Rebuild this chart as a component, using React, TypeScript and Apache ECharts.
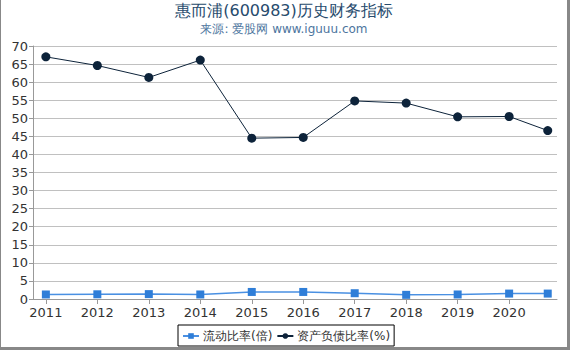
import React, { useEffect, useRef } from "react";
import * as echarts from "echarts";

const years = [2011, 2012, 2013, 2014, 2015, 2016, 2017, 2018, 2019, 2020, 2020.75];
const tickYears = [2011, 2012, 2013, 2014, 2015, 2016, 2017, 2018, 2019, 2020];
const currentRatio = [1.25, 1.3, 1.35, 1.25, 1.95, 1.95, 1.6, 1.15, 1.25, 1.5, 1.5];
const debtRatio = [67.0, 64.6, 61.3, 66.1, 44.5, 44.7, 54.8, 54.2, 50.4, 50.5, 46.6];

export default function App() {
  const ref = useRef<HTMLDivElement>(null);
  useEffect(() => {
    document.body.style.margin = "0";
    const chart = echarts.init(ref.current!, null, { renderer: "svg" });
    chart.setOption({
      animation: false,
      backgroundColor: "#fff",
      title: {
        text: "惠而浦(600983)历史财务指标",
        subtext: "来源: 爱股网 www.iguuu.com",
        left: "center",
        top: -3,
        itemGap: 5,
        textStyle: { fontSize: 16, fontWeight: "normal", color: "#274b6d", fontFamily: "DejaVu Sans" },
        subtextStyle: { fontSize: 12, color: "#4d759e", fontFamily: "DejaVu Sans" },
      },
      grid: { left: 32, right: 10, top: 46, bottom: 48 },
      legend: {
        bottom: 1,
        left: 177,
        borderColor: "#000",
        borderWidth: 1,
        borderRadius: 0,
        padding: [5, 4, 4, 4],
        itemGap: 4,
        itemWidth: 16,
        itemHeight: 7,
        textStyle: { fontSize: 12, color: "#333", fontFamily: "DejaVu Sans", padding: [0, 0, 0, -1] },
        data: ["流动比率(倍)", "资产负债比率(%)"],
      },
      xAxis: {
        type: "value",
        min: 2010.75,
        max: 2020.93,
        axisLine: { show: true, lineStyle: { color: "#999" } },
        axisTick: { show: true, customValues: tickYears, length: 5, lineStyle: { color: "#999" } },
        axisLabel: {
          customValues: tickYears,
          formatter: (v: number) => String(v),
          color: "#333",
          fontSize: 13,
          margin: 7,
          fontFamily: "DejaVu Sans",
        },
        splitLine: { show: false },
      },
      yAxis: {
        type: "value",
        min: 0,
        max: 70,
        interval: 5,
        axisLine: { show: true, lineStyle: { color: "#999" } },
        axisTick: { show: true, length: 4, lineStyle: { color: "#999" } },
        axisLabel: { color: "#333", fontSize: 13, margin: 5, fontFamily: "DejaVu Sans" },
        splitLine: { show: true, lineStyle: { color: "#c0c0c0" } },
      },
      series: [
        {
          name: "流动比率(倍)",
          type: "line",
          data: years.map((y, i) => [y, currentRatio[i]]),
          symbol: "rect",
          symbolSize: 8,
          itemStyle: { color: "#2f7ed8" },
          lineStyle: { color: "#4a90e2", width: 1.5 },
        },
        {
          name: "资产负债比率(%)",
          type: "line",
          data: years.map((y, i) => [y, debtRatio[i]]),
          symbol: "circle",
          symbolSize: 9,
          itemStyle: { color: "#0d233a" },
          lineStyle: { color: "#0d233a", width: 1 },
        },
      ],
    });
    return () => chart.dispose();
  }, []);
  return (
    <div
      style={{
        position: "absolute",
        left: 0,
        top: 0,
        width: 566,
        height: 347,
        borderLeft: "1px solid #888",
        borderRight: "3px solid #888",
        borderBottom: "3px solid #888",
      }}
    >
      <div ref={ref} style={{ width: 566, height: 347 }} />
    </div>
  );
}
